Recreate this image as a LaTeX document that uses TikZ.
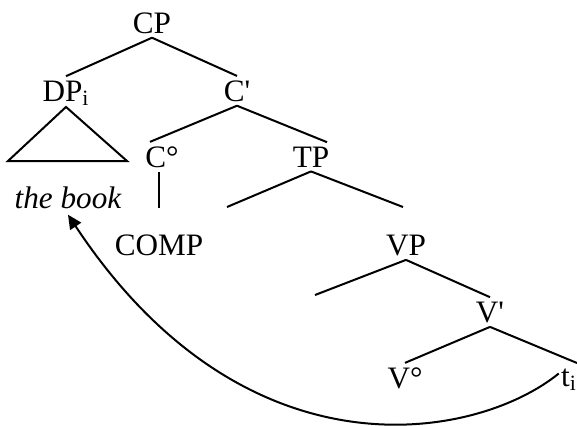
\documentclass[tikz,border=0pt]{standalone}
\usepackage{fontspec}
\setmainfont{Liberation Serif}
\usetikzlibrary{arrows.meta}

\tikzset{
  cat/.style={anchor=base,inner sep=2pt,font=\fontsize{15.6}{18}\selectfont},
  branch/.style={line width=1pt}
}

\begin{document}
\begin{tikzpicture}[x=0.5pt,y=-0.5pt]
  \useasboundingbox (0,0) rectangle (577,425);
  % labels of the tree
  \node[cat] (CP) at (152,33) {CP};
  \node[cat] (DP) at (66,101) {DP\textsubscript{i}};
  \node[cat] (Cbar) at (237,101) {C\textquotesingle};
  \node[cat] (Cdeg) at (162,167) {C°};
  \node[cat] (TP) at (311,167) {TP};
  \node[cat,font=\fontsize{15.6}{18}\selectfont\itshape] (book) at (68,208) {the book};
  \node[cat] (comp) at (159,255) {COMP};
  \node[cat] (VP) at (406,255) {VP};
  \node[cat] (Vbar) at (490,322) {V\textquotesingle};
  \node[cat] (Vdeg) at (405,388) {V°};
  \node[cat] (t) at (569,386) {t\textsubscript{i}};
  % free ends of branches
  \coordinate (triL) at (8,161);
  \coordinate (triR) at (127,161);
  \coordinate (TPl) at (227,207);
  \coordinate (TPr) at (403,207);
  \coordinate (VPl) at (315,295);
  \coordinate (Vr) at (577,363);
  % branches
  \draw[branch] (CP.south) -- (DP.north);
  \draw[branch] (CP.south) -- (Cbar.north);
  \draw[branch,line join=miter] ([yshift=1.5pt]DP.south) -- (triL) -- (triR) -- cycle;
  \draw[branch] (Cbar.south) -- ([xshift=-6pt]Cdeg.north);
  \draw[branch] (Cbar.south) -- ([xshift=8pt]TP.north);
  \draw[branch] (comp.north |- Cdeg.south) -- ([yshift=11pt]comp.north);
  \draw[branch] (TP.south) -- (TPl);
  \draw[branch] (TP.south) -- (TPr);
  \draw[branch] (VP.south) -- (VPl);
  \draw[branch] (VP.south) -- (Vbar.north);
  \draw[branch] (Vbar.south) -- (Vdeg.north);
  \draw[branch] (Vbar.south) -- (Vr);
  % movement
  \draw[branch,-{Triangle[length=7pt,width=6.5pt]}] ([yshift=3pt,xshift=1pt]t.west) .. controls (477,440) and (246,484) .. ([yshift=-1pt]book.south);
\end{tikzpicture}
\end{document}
